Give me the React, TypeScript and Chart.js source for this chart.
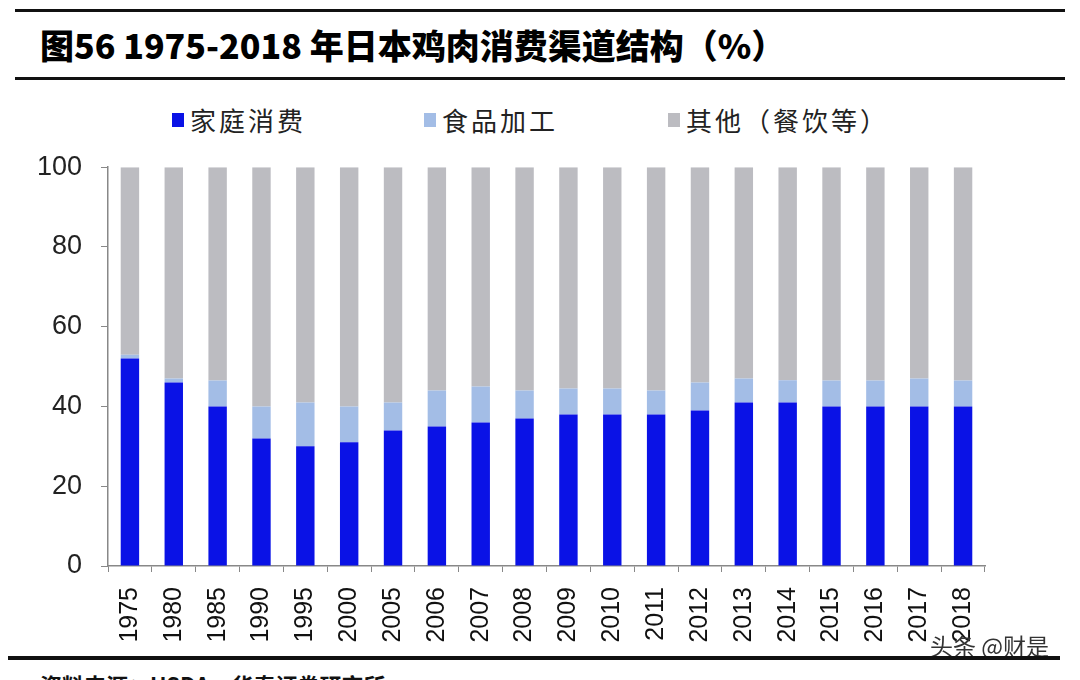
import React, { useEffect, useRef } from "react";
import { Chart, registerables } from "chart.js";

Chart.register(...registerables);

const years = ["1975", "1980", "1985", "1990", "1995", "2000", "2005", "2006", "2007", "2008", "2009", "2010", "2011", "2012", "2013", "2014", "2015", "2016", "2017", "2018"];
const household = [52, 46, 40, 32, 30, 31, 34, 35, 36, 37, 38, 38, 38, 39, 41, 41, 40, 40, 40, 40];
const processing = [1, 1, 6.5, 8, 11, 9, 7, 9, 9, 7, 6.5, 6.5, 6, 7, 6, 5.6, 6.5, 6.5, 7, 6.5];
const others = household.map((h, i) => 100 - h - processing[i]);
const seriesNames = ["家庭消费", "食品加工", "其他（餐饮等）"];
const seriesColors = ["#0a12e6", "#a3bde6", "#bcbcc1"];
const yTicks = [0, 20, 40, 60, 80, 100];

export default function App() {
  const ref = useRef<HTMLCanvasElement | null>(null);
  useEffect(() => {
    if (!ref.current) return;
    const chart = new Chart(ref.current, {
      type: "bar",
      data: {
        labels: years,
        datasets: [household, processing, others].map((d, i) => ({
          label: seriesNames[i],
          data: d,
          backgroundColor: seriesColors[i],
          borderWidth: 0,
          barPercentage: 0.42,
          categoryPercentage: 1,
        })),
      },
      options: {
        animation: false,
        responsive: false,
        layout: { padding: { top: 6, right: 95, left: 0, bottom: 0 } },
        plugins: { legend: { display: false }, tooltip: { enabled: false } },
        scales: {
          x: {
            stacked: true,
            grid: { drawOnChartArea: false, color: "#888", tickLength: 6, offset: true },
            border: { color: "#888", width: 1.5 },
            ticks: {
              color: "#111",
              font: { family: "Liberation Sans, Arial", size: 25 },
              minRotation: 90,
              maxRotation: 90,
              autoSkip: false,
              padding: 15,
            },
            afterFit: (s: any) => { s.height = 84; },
          },
          y: {
            stacked: true,
            min: 0,
            max: 100,
            afterBuildTicks: (s: any) => { s.ticks = yTicks.map((v) => ({ value: v })); },
            grid: { drawOnChartArea: false, color: "#888", tickLength: 7 },
            border: { color: "#888", width: 1.5 },
            ticks: {
              color: "#222",
              font: { family: "Liberation Sans, Arial", size: 27 },
              padding: 19,
            },
            afterFit: (s: any) => { s.width = 108; },
          },
        },
      },
    });
    return () => chart.destroy();
  }, []);

  const legendPos = [172, 424, 668];
  return (
    <div style={{ position: "fixed", left: 0, top: 0, width: 1080, height: 680, background: "#fff", overflow: "hidden", fontFamily: "'Noto Sans CJK SC', sans-serif" }}>
      <div style={{ position: "absolute", left: 15, top: 9, width: 1050, height: 3, background: "#111" }} />
      <div style={{ position: "absolute", left: 40, top: 22, fontSize: 34, fontWeight: 900, color: "#000", whiteSpace: "nowrap", lineHeight: "46px" }}>
        图56 1975-2018 年日本鸡肉消费渠道结构（%）
      </div>
      <div style={{ position: "absolute", left: 15, top: 77, width: 1050, height: 3, background: "#111" }} />
      {seriesNames.map((n, i) => (
        <div key={n} style={{ position: "absolute", left: legendPos[i], top: 101, display: "flex", alignItems: "center", whiteSpace: "nowrap" }}>
          <span style={{ display: "inline-block", width: 12, height: 14, background: seriesColors[i], marginRight: 6 }} />
          <span style={{ fontSize: 26, color: "#222", letterSpacing: 3 }}>{n}</span>
        </div>
      ))}
      <canvas ref={ref} width={1080} height={518} style={{ position: "absolute", left: 0, top: 132 }} />
      <div style={{ position: "absolute", left: 930, top: 628, fontSize: 23, color: "#333", whiteSpace: "nowrap" }}>头条 @财是</div>
      <div style={{ position: "absolute", left: 8, top: 656, width: 1052, height: 4, background: "#111" }} />
      <div style={{ position: "absolute", left: 40, top: 668, fontSize: 22, fontWeight: 700, color: "#111", whiteSpace: "nowrap" }}>资料来源：USDA，华泰证券研究所</div>
    </div>
  );
}
